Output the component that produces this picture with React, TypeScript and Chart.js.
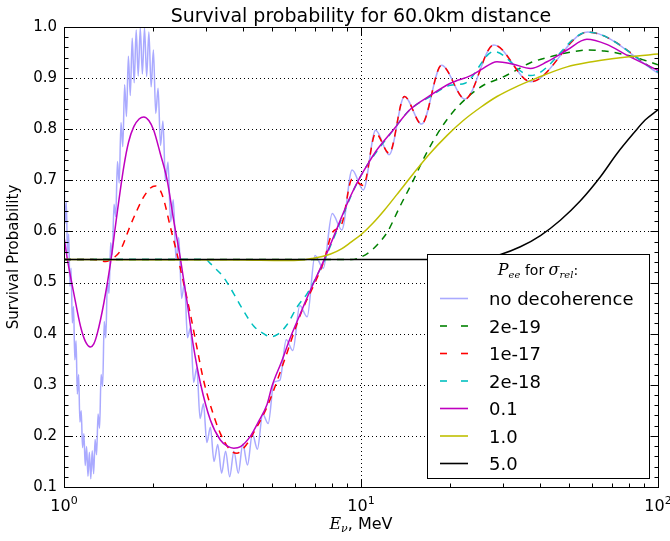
import React, { useEffect, useRef } from 'react';
import { Chart, registerables } from 'chart.js';

Chart.register(...registerables);

const TITLE = 'Survival probability for 60.0km distance';
const Y_LABEL = 'Survival Probability';
const X_MAJOR = [1, 10, 100];
const X_EXP = ['0', '1', '2'];
const X_MINOR = [2, 3, 4, 5, 6, 7, 8, 9, 20, 30, 40, 50, 60, 70, 80, 90];
const X_GRID = [10];
const Y_MAJOR = [0.1, 0.2, 0.3, 0.4, 0.5, 0.6, 0.7, 0.8, 0.9, 1.0];
const Y_GRID = [0.2, 0.3, 0.4, 0.5, 0.6, 0.7, 0.8, 0.9];

// no decoherence
const noDecohE = [
  1.0, 1.009, 1.0182, 1.0275, 1.037, 1.0467, 1.0566, 1.0667, 1.0769, 1.0874,
  1.098, 1.1089, 1.12, 1.1313, 1.1429, 1.1546, 1.1667, 1.1789, 1.1915, 1.2043,
  1.2174, 1.2308, 1.2444, 1.2584, 1.2727, 1.2874, 1.3023, 1.3176, 1.3333, 1.3494,
  1.3659, 1.3827, 1.4, 1.4177, 1.4359, 1.4545, 1.4737, 1.4933, 1.5135, 1.5342,
  1.5556, 1.5775, 1.6, 1.6232, 1.6471, 1.6716, 1.697, 1.7231, 1.75, 1.7778,
  1.8065, 1.8361, 1.8667, 1.8983, 1.931, 1.9649, 2.0, 2.0364, 2.0741, 2.1132,
  2.1538, 2.1961, 2.24, 2.2857, 2.3333, 2.383, 2.4348, 2.4889, 2.5455, 2.6047,
  2.6667, 2.7317, 2.8, 2.8718, 2.9474, 3.027, 3.1111, 3.2, 3.2941, 3.3939,
  3.5, 3.6129, 3.7333, 3.8621, 4.0, 4.1481, 4.3077, 4.48, 4.6667, 4.8696,
  5.0909, 5.3333, 5.6, 5.8947, 6.2222, 6.5882, 7.0, 7.4667, 8.0, 8.6154,
  9.3333, 10.18, 11.2, 12.44, 14.0, 16.0, 18.67, 22.4, 28.0, 37.33,
  58.0, 100,
];
const noDecohP = [
  0.715, 0.616, 0.657, 0.557, 0.595, 0.493, 0.528, 0.421, 0.453, 0.349,
  0.386, 0.282, 0.32, 0.227, 0.249, 0.177, 0.204, 0.142, 0.179, 0.121,
  0.168, 0.116, 0.171, 0.126, 0.193, 0.163, 0.243, 0.215, 0.32, 0.297,
  0.424, 0.392, 0.501, 0.479, 0.578, 0.555, 0.653, 0.629, 0.737, 0.695,
  0.813, 0.766, 0.887, 0.825, 0.943, 0.866, 0.978, 0.891, 0.994, 0.904,
  0.998, 0.908, 0.998, 0.903, 0.99, 0.883, 0.955, 0.831, 0.88, 0.768,
  0.816, 0.698, 0.736, 0.619, 0.662, 0.546, 0.588, 0.469, 0.5, 0.392,
  0.412, 0.305, 0.333, 0.234, 0.263, 0.187, 0.217, 0.15, 0.183, 0.127,
  0.17, 0.12, 0.17, 0.127, 0.184, 0.143, 0.204, 0.174, 0.243, 0.224,
  0.305, 0.309, 0.388, 0.367, 0.455, 0.433, 0.553, 0.528, 0.635, 0.603,
  0.72, 0.681, 0.798, 0.75, 0.864, 0.81, 0.925, 0.859, 0.965, 0.893,
  0.99, 0.91,
];

// sigma_rel = 2e-19
const s2e19E = [1.0, 9.3, 10.0, 10.8, 11.6, 12.3, 13.5, 15.0, 16.5, 18.5, 20.5, 23.4, 26.0, 29.5, 33.0, 37.2, 43.5, 50.0, 58.0, 66.0, 78.5, 90.0, 100];
const s2e19P = [0.545, 0.545, 0.55, 0.562, 0.58, 0.6, 0.648, 0.7, 0.75, 0.8, 0.835, 0.868, 0.887, 0.9, 0.914, 0.93, 0.942, 0.95, 0.955, 0.953, 0.945, 0.935, 0.926];

// sigma_rel = 1e-17
const s1e17E = [1.0, 1.25, 1.32, 1.38, 1.43, 1.48, 1.53, 1.59, 1.65, 1.763, 1.857, 1.955, 2.03, 2.11, 2.17, 2.28, 2.4, 2.53, 2.66, 2.8, 2.95, 3.15, 3.36, 3.63, 3.82, 4.14, 4.25, 4.83, 5.5, 6.26, 7.0, 7.48, 8.0, 8.62, 9.33, 10.18, 11.2, 12.44, 14.0, 16.0, 18.67, 22.4, 28.0, 37.33, 58.0, 100];
const s1e17P = [0.545, 0.545, 0.543, 0.541, 0.544, 0.55, 0.558, 0.578, 0.603, 0.642, 0.668, 0.685, 0.689, 0.68, 0.661, 0.609, 0.557, 0.498, 0.44, 0.374, 0.309, 0.25, 0.205, 0.172, 0.166, 0.185, 0.196, 0.257, 0.345, 0.438, 0.5, 0.54, 0.597, 0.615, 0.702, 0.69, 0.792, 0.753, 0.864, 0.81, 0.925, 0.859, 0.965, 0.893, 0.99, 0.912];

// sigma_rel = 2e-18
const s2e18E = [1.0, 3.0, 3.1, 3.2, 3.45, 3.73, 4.0, 4.35, 4.7, 4.95, 5.22, 5.64, 6.09, 6.58, 7.0, 7.48, 8.0, 9.8, 12.9, 14.6, 17.1, 20.0, 22.4, 28.0, 37.33, 58.0, 100];
const s2e18P = [0.545, 0.545, 0.538, 0.53, 0.51, 0.478, 0.447, 0.415, 0.4, 0.394, 0.398, 0.418, 0.452, 0.478, 0.506, 0.54, 0.58, 0.7, 0.8, 0.838, 0.864, 0.886, 0.89, 0.952, 0.905, 0.99, 0.912];

// sigma_rel = 0.1
const s01E = [1.0, 1.025, 1.079, 1.137, 1.18, 1.228, 1.26, 1.294, 1.362, 1.434, 1.51, 1.59, 1.65, 1.718, 1.79, 1.857, 1.93, 2.005, 2.11, 2.226, 2.34, 2.47, 2.6, 2.73, 2.88, 3.11, 3.36, 3.55, 3.73, 3.93, 4.25, 4.5, 4.83, 5.02, 5.4, 5.78, 6.26, 6.58, 7.0, 7.48, 8.0, 8.6, 9.2, 9.8, 10.5, 11.2, 12.9, 14.6, 17.1, 20.0, 23.4, 25.3, 28.7, 32.6, 37.2, 42.3, 49.4, 57.6, 67.2, 78.5, 100];
const s01P = [0.59, 0.548, 0.479, 0.414, 0.385, 0.374, 0.38, 0.4, 0.46, 0.538, 0.636, 0.727, 0.775, 0.805, 0.82, 0.824, 0.817, 0.798, 0.752, 0.7, 0.622, 0.544, 0.46, 0.374, 0.303, 0.231, 0.192, 0.18, 0.176, 0.179, 0.2, 0.226, 0.262, 0.298, 0.345, 0.392, 0.44, 0.47, 0.505, 0.542, 0.583, 0.628, 0.668, 0.7, 0.73, 0.756, 0.8, 0.838, 0.866, 0.89, 0.905, 0.916, 0.932, 0.927, 0.919, 0.932, 0.955, 0.976, 0.966, 0.945, 0.915];

// sigma_rel = 1.0
const s10E = [1.0, 4.0, 5.5, 6.3, 6.8, 7.4, 7.9, 8.6, 9.2, 10.06, 11.0, 12.0, 13.2, 15.0, 17.1, 19.5, 22.2, 25.3, 28.7, 33.0, 39.0, 49.4, 60.0, 70.0, 80.0, 100];
const s10P = [0.545, 0.544, 0.543, 0.544, 0.547, 0.551, 0.556, 0.566, 0.578, 0.595, 0.617, 0.642, 0.672, 0.713, 0.753, 0.788, 0.818, 0.843, 0.864, 0.882, 0.9, 0.922, 0.932, 0.938, 0.942, 0.947];

// sigma_rel = 5.0
const s50E = [1.0, 24.0, 25.3, 29.5, 34.4, 40.2, 46.9, 54.8, 64.0, 72.7, 83.0, 90.5, 100];
const s50P = [0.545, 0.545, 0.546, 0.555, 0.57, 0.592, 0.622, 0.66, 0.707, 0.752, 0.793, 0.818, 0.838];

const SERIES = [
  { label: 'no decoherence', E: noDecohE, P: noDecohP, color: '#aaaaff', dash: [] as number[] },
  { label: '2e-19', E: s2e19E, P: s2e19P, color: '#008000', dash: [7, 6] },
  { label: '1e-17', E: s1e17E, P: s1e17P, color: '#ff0000', dash: [7, 6] },
  { label: '2e-18', E: s2e18E, P: s2e18P, color: '#00bfbf', dash: [7, 6] },
  { label: '0.1', E: s01E, P: s01P, color: '#bf00bf', dash: [] as number[] },
  { label: '1.0', E: s10E, P: s10P, color: '#bfbf00', dash: [] as number[] },
  { label: '5.0', E: s50E, P: s50P, color: '#000000', dash: [] as number[] },
];

type Part = { t: string; font: string; dy?: number };

function drawRich(ctx: CanvasRenderingContext2D, parts: Part[], cx: number, baseY: number) {
  let total = 0;
  const widths: number[] = [];
  for (const p of parts) {
    ctx.font = p.font;
    const w = ctx.measureText(p.t).width;
    widths.push(w);
    total += w;
  }
  let x = cx - total / 2;
  ctx.textAlign = 'left';
  ctx.textBaseline = 'alphabetic';
  parts.forEach((p, i) => {
    ctx.font = p.font;
    ctx.fillText(p.t, x, baseY + (p.dy || 0));
    x += widths[i];
  });
}

const SANS = 'DejaVu Sans';
const SERIF = 'DejaVu Serif';

const decorPlugin = {
  id: 'decor',
  beforeDatasetsDraw(chart: any) {
    const { ctx, chartArea: a, scales } = chart;
    const xs = scales.x;
    const ys = scales.y;
    ctx.save();
    ctx.strokeStyle = '#000';
    ctx.lineWidth = 1;
    ctx.setLineDash([1, 3]);
    for (const v of Y_GRID) {
      const py = Math.round(ys.getPixelForValue(v)) + 0.5;
      ctx.beginPath();
      ctx.moveTo(a.left, py);
      ctx.lineTo(a.right, py);
      ctx.stroke();
    }
    for (const v of X_GRID) {
      const px = Math.round(xs.getPixelForValue(v)) + 0.5;
      ctx.beginPath();
      ctx.moveTo(px, a.top);
      ctx.lineTo(px, a.bottom);
      ctx.stroke();
    }
    ctx.restore();
  },
  afterDatasetsDraw(chart: any) {
    const { ctx, chartArea: a, scales } = chart;
    const xs = scales.x;
    const ys = scales.y;
    ctx.save();
    ctx.strokeStyle = '#000';
    ctx.fillStyle = '#000';
    ctx.lineWidth = 1;
    ctx.setLineDash([]);
    ctx.strokeRect(Math.round(a.left) + 0.5, Math.round(a.top) + 0.5, Math.round(a.right - a.left), Math.round(a.bottom - a.top));
    const tick = (x1: number, y1: number, x2: number, y2: number) => {
      ctx.beginPath();
      ctx.moveTo(x1, y1);
      ctx.lineTo(x2, y2);
      ctx.stroke();
    };
    const L = Math.round(a.left) + 0.5;
    const R = Math.round(a.right) + 0.5;
    const T = Math.round(a.top) + 0.5;
    const B = Math.round(a.bottom) + 0.5;
    for (const v of X_MAJOR) {
      const px = Math.round(xs.getPixelForValue(v)) + 0.5;
      tick(px, B, px, B - 8);
      tick(px, T, px, T + 8);
    }
    for (const v of X_MINOR) {
      const px = Math.round(xs.getPixelForValue(v)) + 0.5;
      tick(px, B, px, B - 4);
      tick(px, T, px, T + 4);
    }
    for (let i = 5; i <= 50; i++) {
      const v = i / 50;
      const py = Math.round(ys.getPixelForValue(v)) + 0.5;
      const len = i % 5 === 0 ? 8 : 4;
      tick(L, py, L + len, py);
      tick(R, py, R - len, py);
    }
    X_MAJOR.forEach((v, i) => {
      const px = xs.getPixelForValue(v);
      drawRich(ctx, [
        { t: '10', font: `16px ${SANS}` },
        { t: X_EXP[i], font: `11px ${SANS}`, dy: -7 },
      ], px, 511);
    });
    ctx.textAlign = 'center';
    ctx.textBaseline = 'alphabetic';
    ctx.font = `19px ${SANS}`;
    ctx.fillText(TITLE, (a.left + a.right) / 2, 22);
    drawRich(ctx, [
      { t: 'E', font: `italic 16px ${SERIF}` },
      { t: 'ν', font: `italic 11px ${SERIF}`, dy: 3 },
      { t: ', MeV', font: `16px ${SANS}` },
    ], (a.left + a.right) / 2, 529);
    ctx.save();
    ctx.translate(14, (a.top + a.bottom) / 2);
    ctx.rotate(-Math.PI / 2);
    ctx.textAlign = 'center';
    ctx.textBaseline = 'middle';
    ctx.font = `15px ${SANS}`;
    ctx.fillText(Y_LABEL, 0, 0);
    ctx.restore();
    const bx = 427.5, by = 254.5, bw = 222, bh = 224;
    ctx.fillStyle = '#fff';
    ctx.fillRect(bx, by, bw, bh);
    ctx.strokeStyle = '#000';
    ctx.strokeRect(bx, by, bw, bh);
    ctx.fillStyle = '#000';
    drawRich(ctx, [
      { t: 'P', font: `italic 16px ${SERIF}` },
      { t: 'ee', font: `italic 10px ${SERIF}`, dy: 3 },
      { t: ' for ', font: `14px ${SANS}` },
      { t: 'σ', font: `italic 16px ${SERIF}` },
      { t: 'rel', font: `italic 10px ${SERIF}`, dy: 3 },
      { t: ':', font: `14px ${SANS}` },
    ], 538, 275);
    SERIES.forEach((s, i) => {
      const ly = 298.5 + i * 27.5;
      ctx.strokeStyle = s.color;
      ctx.lineWidth = 1.6;
      if (s.dash.length) {
        tick(440, ly, 447, ly);
        tick(461, ly, 468, ly);
      } else {
        tick(440, ly, 468, ly);
      }
      ctx.fillStyle = '#000';
      ctx.font = `18px ${SANS}`;
      ctx.textAlign = 'left';
      ctx.textBaseline = 'alphabetic';
      ctx.fillText(s.label, 489, ly + 6.5);
    });
    ctx.restore();
  },
};

export default function App() {
  const canvasRef = useRef<HTMLCanvasElement | null>(null);

  useEffect(() => {
    document.body.style.margin = '0';
    const canvas = canvasRef.current;
    if (!canvas) return;
    const datasets = SERIES.map((s, i) => ({
      label: s.label,
      data: s.E.map((e, k) => ({ x: e, y: s.P[k] })),
      borderColor: s.color,
      backgroundColor: s.color,
      borderWidth: 1.5,
      borderDash: s.dash,
      pointRadius: 0,
      fill: false,
      cubicInterpolationMode: 'monotone' as const,
      order: SERIES.length - i,
    }));
    const chart = new Chart(canvas, {
      type: 'line',
      data: { datasets },
      options: {
        animation: false,
        responsive: false,
        events: [],
        layout: { padding: { left: 0, right: 12, top: 27, bottom: 0 } },
        plugins: {
          legend: { display: false },
          title: { display: false },
          tooltip: { enabled: false },
        },
        scales: {
          x: {
            type: 'logarithmic',
            min: 1,
            max: 100,
            afterFit: (s: any) => { s.height = 54; },
            ticks: { display: false },
            grid: { display: false, drawTicks: false },
            border: { display: false },
          },
          y: {
            type: 'linear',
            min: 0.1,
            max: 1.0,
            afterFit: (s: any) => { s.width = 64; },
            afterBuildTicks: (s: any) => { s.ticks = Y_MAJOR.map((v) => ({ value: v })); },
            ticks: {
              callback: (v: any) => Number(v).toFixed(1),
              font: { family: SANS, size: 15 },
              color: '#000',
              padding: 7,
              autoSkip: false,
            },
            grid: { display: false, drawTicks: false },
            border: { display: false },
          },
        },
      },
      plugins: [decorPlugin],
    } as any);
    return () => chart.destroy();
  }, []);

  return (
    <div style={{ position: 'absolute', left: 0, top: 0, width: 670, height: 541, background: '#fff' }}>
      <canvas ref={canvasRef} width={670} height={541} style={{ display: 'block', width: 670, height: 541 }} />
    </div>
  );
}
